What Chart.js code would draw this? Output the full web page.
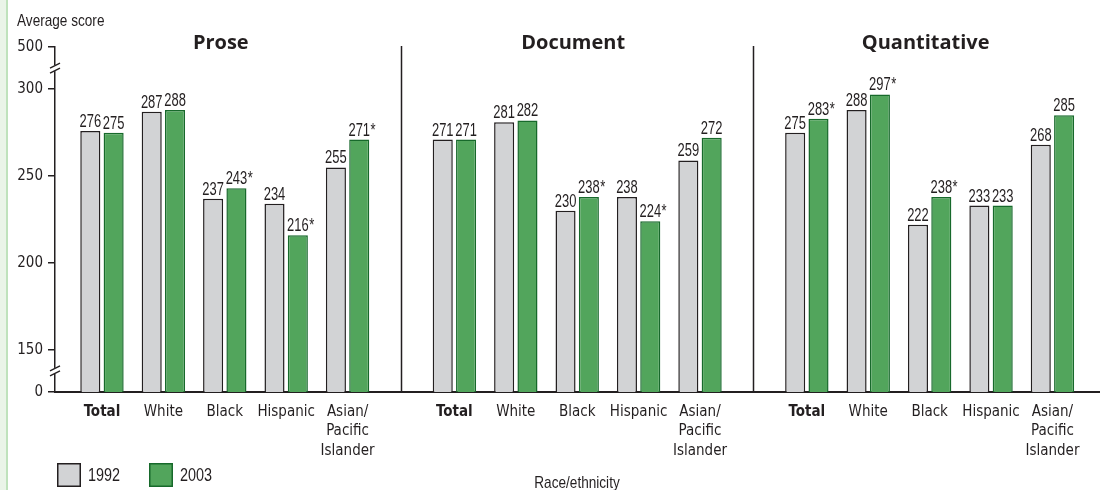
<!DOCTYPE html>
<html>
<head>
<meta charset="utf-8">
<script src="https://cdn.jsdelivr.net/npm/chart.js@4/dist/chart.umd.min.js"></script>
<style>
  html, body { margin: 0; padding: 0; background: #fff; }
  #wrap { position: relative; width: 1106px; height: 490px; overflow: hidden; }
  #stripeA { position: absolute; left: 0; top: 0; width: 6px; height: 490px; background: #eaf4e8; }
  #stripeB { position: absolute; left: 6px; top: 0; width: 2px; height: 490px; background: #bfe2bc; }
  canvas { position: absolute; left: 0; top: 0; }
</style>
</head>
<body>
<div id="wrap">
  <div id="stripeA"></div>
  <div id="stripeB"></div>
  <canvas id="c" width="1106" height="490"></canvas>
</div>
<script>
// ---- data ----
const categories = ['Total', 'White', 'Black', 'Hispanic', ['Asian/', 'Pacific', 'Islander']];
const panels = ['Prose', 'Document', 'Quantitative'];
const years = ['1992', '2003'];
const prose1992 = [276, 287, 237, 234, 255];
const prose2003 = [275, 288, 243, 216, 271];
const proseSig2003 = [false, false, true, true, true];
const document1992 = [271, 281, 230, 238, 259];
const document2003 = [271, 282, 238, 224, 272];
const documentSig2003 = [false, false, true, true, false];
const quant1992 = [275, 288, 222, 233, 268];
const quant2003 = [283, 297, 238, 233, 285];
const quantSig2003 = [true, true, true, false, false];
const yTickLabels = [0, 150, 200, 250, 300, 500];
const xAxisTitle = 'Race/ethnicity';
const yAxisTitle = 'Average score';

// ---- layout helpers ----
const PANEL_STEP = 5.74;   // distance between panel starts, in category units
const BREAK = 24.3;        // axis units used by each broken segment
function axisY(v) {
  if (v < 150) return 150 - BREAK * (150 - v) / 150;
  if (v > 300) return 300 + BREAK * (v - 300) / 200;
  return v;
}
const FONT = "'DejaVu Sans Condensed', 'Liberation Sans Narrow', 'Liberation Sans', sans-serif";
const LABEL_FONT = "'Liberation Sans', 'DejaVu Sans', sans-serif";
const TITLE_FONT = "'Open Sans', 'Noto Sans', 'Liberation Sans', sans-serif";
const FS = 15;
const NARROW = 0.8;
const VALUE_NARROW = 0.72;
const INK = '#231f20';

const series1992 = [prose1992, document1992, quant1992];
const series2003 = [prose2003, document2003, quant2003];
const sig2003 = [proseSig2003, documentSig2003, quantSig2003];

const xPositions = [];
const xLabels = [];
panels.forEach((p, pi) => categories.forEach((c, ci) => { xPositions.push(pi * PANEL_STEP + ci); xLabels.push(c); }));

function toPoints(series) {
  const pts = [];
  series.forEach((arr, pi) => arr.forEach((v, ci) => pts.push({ x: pi * PANEL_STEP + ci, y: axisY(v), raw: v })));
  return pts;
}
const sigFlat = [].concat(...sig2003);

function narrowText(ctx, txt, x, y, align, k) {
  ctx.save();
  ctx.translate(x, y);
  ctx.scale(k || NARROW, 1);
  ctx.textAlign = align;
  ctx.fillText(txt, 0, 0);
  ctx.restore();
}

const decorations = {
  id: 'decorations',
  afterDraw(chart) {
    const ctx = chart.ctx;
    const xs = chart.scales.x, ys = chart.scales.y;
    const area = chart.chartArea;
    ctx.save();
    // panel dividers
    ctx.strokeStyle = INK;
    ctx.lineWidth = 1.5;
    for (let p = 0; p < panels.length - 1; p++) {
      const xv = p * PANEL_STEP + (categories.length - 1) + (PANEL_STEP - (categories.length - 1)) / 2;
      const px = Math.round(xs.getPixelForValue(xv)) + 0.5;
      ctx.beginPath(); ctx.moveTo(px, area.top - 1); ctx.lineTo(px, area.bottom); ctx.stroke();
    }
    // panel titles
    ctx.fillStyle = INK;
    ctx.font = "bold 20px " + TITLE_FONT;
    ctx.textAlign = 'center';
    ctx.textBaseline = 'alphabetic';
    panels.forEach((p, pi) => {
      const cx = xs.getPixelForValue(pi * PANEL_STEP + (categories.length - 1) / 2) - 4;
      ctx.fillText(p, cx, 49);
    });
    // axis breaks
    const breaks = [(axisY(300) + axisY(500)) / 2, (axisY(0) + axisY(150)) / 2];
    const ax = area.left;
    breaks.forEach(bv => {
      const by = ys.getPixelForValue(bv);
      ctx.fillStyle = '#fff';
      ctx.fillRect(ax - 3, by - 3, 6, 6);
      ctx.strokeStyle = INK;
      ctx.lineWidth = 1.3;
      ctx.beginPath(); ctx.moveTo(ax - 5, by); ctx.lineTo(ax + 5, by - 5); ctx.stroke();
      ctx.beginPath(); ctx.moveTo(ax - 5, by + 5); ctx.lineTo(ax + 5, by); ctx.stroke();
    });
    // axis titles
    ctx.fillStyle = INK;
    ctx.font = "17px " + LABEL_FONT;
    ctx.textBaseline = 'middle';
    narrowText(ctx, yAxisTitle, 17, 21, 'left');
    narrowText(ctx, xAxisTitle, 577, 483, 'center');
    // legend
    const ds = chart.data.datasets;
    let lx = 57;
    ds.forEach((d, i) => {
      ctx.fillStyle = d.backgroundColor;
      ctx.strokeStyle = d.borderColor;
      ctx.lineWidth = 1.5;
      ctx.fillRect(lx, 463, 24, 24);
      ctx.strokeRect(lx + 0.75, 463.75, 22.5, 22.5);
      ctx.fillStyle = INK;
      ctx.font = "18px " + LABEL_FONT;
      ctx.textBaseline = 'middle';
      narrowText(ctx, d.label, lx + 31, 476, 'left');
      lx += 92;
    });
    ctx.restore();
  },
  afterDatasetsDraw(chart) {
    const ctx = chart.ctx;
    ctx.save();
    ctx.fillStyle = INK;
    ctx.font = "18px " + LABEL_FONT;
    ctx.textBaseline = 'alphabetic';
    chart.data.datasets.forEach((d, di) => {
      const meta = chart.getDatasetMeta(di);
      meta.data.forEach((el, i) => {
        const txt = String(d.data[i].raw);
        const w = ctx.measureText(txt).width * VALUE_NARROW;
        narrowText(ctx, txt, el.x, el.y - 4, 'center', VALUE_NARROW);
        if (di === 1 && sigFlat[i]) {
          narrowText(ctx, '*', el.x + w / 2 + 0.5, el.y - 4, 'left', VALUE_NARROW);
        }
      });
    });
    ctx.restore();
  }
};

new Chart(document.getElementById('c'), {
  type: 'bar',
  data: {
    datasets: [
      { label: years[0], data: toPoints(series1992), backgroundColor: '#d2d3d5', borderColor: INK, borderWidth: 1.5, borderSkipped: false },
      { label: years[1], data: toPoints(series2003), backgroundColor: '#52a55c', borderColor: '#17692b', borderWidth: 1.5, borderSkipped: false }
    ]
  },
  options: {
    responsive: false,
    animation: false,
    events: [],
    categoryPercentage: 0.76,
    barPercentage: 0.86,
    layout: { padding: { top: 47, right: 7, left: 0, bottom: 0 } },
    plugins: { legend: { display: false }, tooltip: { enabled: false }, title: { display: false } },
    scales: {
      x: {
        type: 'linear',
        offset: false,
        min: -0.765,
        max: -0.765 + 1044 / 61.4,
        afterBuildTicks: s => { s.ticks = xPositions.map(v => ({ value: v })); },
        afterFit: s => { s.height = 98; },
        grid: { display: false, drawTicks: false },
        border: { display: true, color: INK, width: 2 },
        ticks: {
          autoSkip: false,
          maxRotation: 0,
          padding: 10,
          color: INK,
          font: c => ({ family: FONT, size: FS, weight: (c.index % categories.length === 0) ? 'bold' : 'normal', lineHeight: 1.3 }),
          callback: (v, i) => xLabels[i]
        }
      },
      y: {
        type: 'linear',
        min: axisY(0),
        max: axisY(500),
        afterBuildTicks: s => { s.ticks = yTickLabels.map(v => ({ value: axisY(v) })); },
        afterFit: s => { s.width = 55; },
        grid: { display: true, drawOnChartArea: false, drawTicks: true, tickLength: 7, color: INK, lineWidth: 1.5 },
        border: { display: true, color: INK, width: 1.5 },
        ticks: {
          padding: 5,
          color: INK,
          font: { family: FONT, size: FS },
          callback: (v, i) => String(yTickLabels[i])
        }
      }
    }
  },
  plugins: [decorations]
});
</script>
</body>
</html>
